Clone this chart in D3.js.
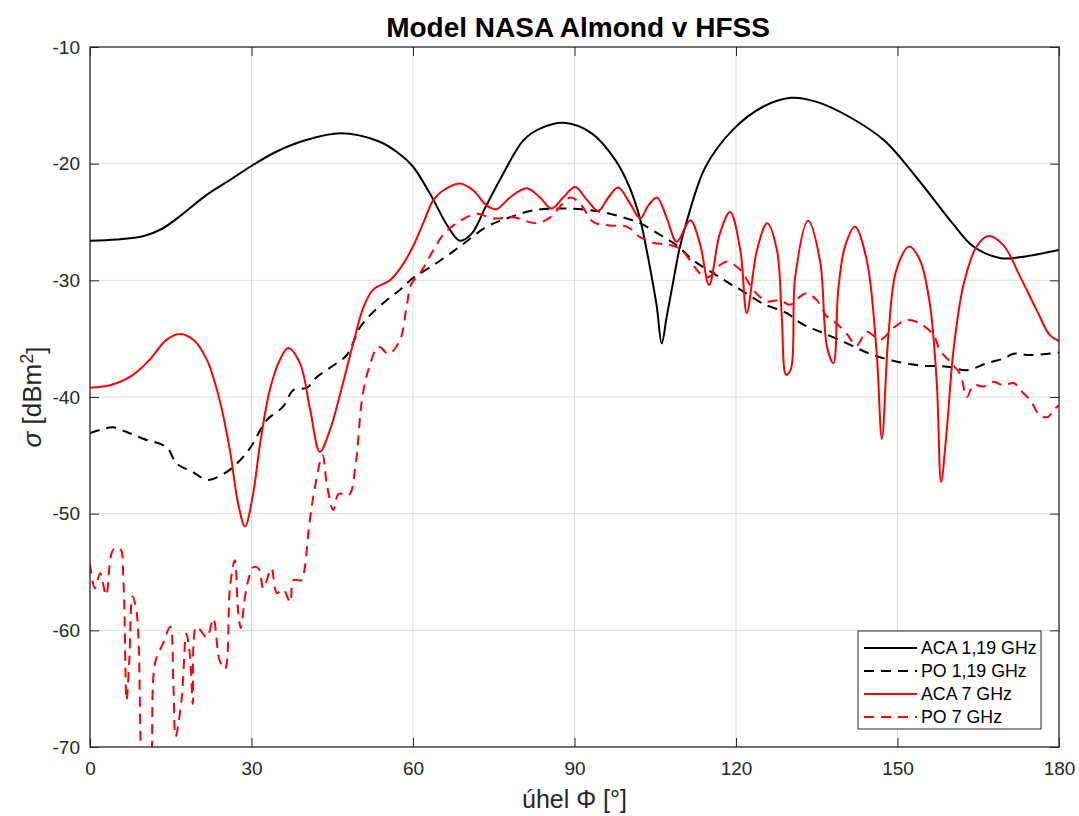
<!DOCTYPE html>
<html>
<head>
<meta charset="utf-8">
<script src="https://cdn.jsdelivr.net/npm/d3@7"></script>
<style>
  body { margin: 0; background: #fff; }
  text { font-family: "Liberation Sans", Arial, sans-serif; }
</style>
</head>
<body>
<div id="chart"></div>
<script>
// hodnoty (úhel ve stupních, sigma v dBm^2)
const acaLowAngle = [0, 5, 10, 13.3, 17, 21.6, 26, 30, 34.5, 40, 46.6, 53.7, 57, 59.9, 63.2, 66.5, 68.7, 70.9, 73.5, 76.7, 80.5, 83.6, 88, 93.2, 97.6, 100.2, 102.1, 103.4, 104.3, 105.3, 106.2, 107.1, 108.3, 109.5, 111, 114.3, 119.4, 125.1, 130.2, 135, 141.1, 147.5, 153.9, 160.2, 164.1, 169.2, 173, 180];
const acaLowVal = [-26.6, -26.5, -26.2, -25.6, -24.4, -22.7, -21.4, -20.2, -19.0, -18.0, -17.4, -18.1, -19.0, -20.2, -22.6, -25.4, -26.6, -26.0, -23.7, -20.9, -18.0, -17.0, -16.5, -17.4, -19.7, -22.0, -24.6, -27.4, -29.6, -32.3, -35.4, -33.2, -30.2, -27.3, -24.7, -20.3, -17.1, -15.1, -14.35, -14.7, -16.0, -18.0, -21.4, -25.1, -27.1, -28.1, -28.0, -27.4];

const poLowAngle = [0, 2, 4.3, 6.8, 10, 14.2, 16.1, 19, 21.7, 24, 26.6, 29.7, 32.8, 35.9, 37.8, 40.3, 42.1, 45.2, 47.7, 50.2, 52, 55.1, 57.6, 60, 63.8, 68.7, 73.7, 77.4, 82.4, 88.6, 94.7, 99.7, 102.2, 105.9, 109, 112.1, 115.8, 118.9, 120.8, 125, 129.4, 132.5, 135.6, 140.6, 144.9, 149.2, 154.2, 159.2, 162.9, 166.6, 169.7, 171.6, 174.7, 180];
const poLowVal = [-43.1, -42.8, -42.6, -43.0, -43.6, -44.3, -45.7, -46.4, -47.1, -46.8, -46.0, -44.4, -42.0, -40.8, -39.4, -39.2, -38.3, -37.3, -36.4, -34.0, -33.0, -31.7, -30.8, -29.8, -28.7, -27.1, -25.4, -24.7, -24.0, -23.85, -24.1, -24.7, -25.1, -26.1, -27.0, -28.3, -29.4, -30.3, -30.8, -32.0, -32.8, -33.8, -34.4, -35.4, -36.3, -36.9, -37.3, -37.4, -37.7, -37.1, -36.7, -36.3, -36.4, -36.2];

const acaHighAngle = [0, 3.7, 8, 11.1, 14.2, 16.7, 19.2, 21.7, 24.1, 26, 27.5, 28.8, 30.3, 31.6, 33.4, 35.3, 36.8, 39, 40.9, 42.7, 44.6, 47, 48.9, 50.8, 52.6, 55.7, 57.6, 60, 61.9, 63.8, 65.6, 68.7, 71.2, 73.7, 75.5, 78, 81.1, 83.6, 85.7, 87.9, 90.1, 92.3, 94.4, 96.3, 98.1, 100.3, 102.2, 103.7, 105.3, 107.1, 109, 111.5, 113.3, 115, 117, 118.9, 120.8, 122, 123.9, 125.8, 127.6, 128.5, 129.3, 130.2, 131, 133.4, 135.6, 136.9, 138.1, 139, 140.3, 142.1, 144.3, 146.1, 147.1, 148.3, 149.8, 152.2, 154.2, 156, 157.3, 158.1, 159.1, 160.4, 162.3, 164.7, 166.9, 169.7, 172.8, 175.9, 178.3, 180];
const acaHighVal = [-39.2, -39.0, -38.1, -36.8, -35.1, -34.6, -35.1, -36.8, -40.3, -44.6, -49.1, -51.1, -48.3, -44.0, -39.4, -36.8, -35.8, -37.1, -41.1, -44.7, -42.8, -38.8, -35.4, -32.3, -30.8, -30.0, -29.0, -27.1, -25.1, -23.1, -22.3, -21.7, -22.3, -23.6, -23.9, -22.9, -22.1, -22.9, -23.85, -22.9, -22.0, -23.1, -24.05, -22.9, -22.05, -23.4, -24.7, -23.6, -22.9, -24.6, -26.7, -24.85, -26.85, -30.4, -26.0, -24.15, -27.4, -32.8, -27.4, -25.1, -27.4, -33.1, -38.1, -37.6, -29.7, -24.9, -28.3, -35.7, -37.1, -30.8, -27.0, -25.4, -28.3, -36.0, -43.6, -34.8, -29.1, -27.1, -28.3, -32.0, -38.8, -47.3, -43.1, -36.0, -30.3, -27.1, -26.2, -27.0, -29.7, -32.6, -34.7, -35.2];

const poHighAngle = [0, 0.9, 1.9, 3, 4.3, 5.6, 6.2, 6.8, 7.3, 7.9, 8.7, 9.6, 10.5, 11.4, 12.1, 13.6, 14.9, 15.5, 15.9, 17, 17.9, 18.6, 19.1, 19.8, 21.7, 22.9, 24.1, 25.1, 26, 26.9, 27.5, 28, 28.8, 29.4, 30.3, 31.3, 32.2, 33.7, 34.7, 35.9, 37.2, 37.8, 39.3, 39.9, 40.6, 41.5, 43.2, 44, 45.2, 46.2, 48.1, 49.3, 50.5, 51.7, 53.6, 55.5, 57.6, 58.8, 59.7, 61.3, 63.8, 65.6, 68.1, 71.8, 74.9, 78.6, 83, 85.5, 89.2, 91, 93.5, 96.6, 99.7, 102.2, 104.7, 107.1, 109.6, 111.5, 113.3, 115, 117, 118.3, 120.8, 123.2, 125.7, 128.2, 130, 131.9, 133.1, 135, 136.9, 138.7, 140.6, 142.4, 144.3, 146.8, 149.2, 151.7, 154.2, 156.7, 157.9, 159.8, 161.6, 162.9, 164.1, 166, 167.8, 169.7, 171.6, 172.8, 174.7, 176.5, 178, 179, 180];
const poHighVal = [-54.3, -56.4, -55.1, -57.0, -53.1, -53.0, -55.7, -66.0, -62.6, -57.1, -58.6, -72.0, -76.0, -71.5, -62.8, -61.1, -59.7, -64.8, -69.1, -66.0, -60.3, -62.3, -66.3, -59.7, -60.6, -59.0, -62.6, -63.3, -56.3, -54.0, -58.3, -59.8, -57.1, -55.7, -54.6, -54.7, -56.4, -54.7, -56.8, -56.5, -57.6, -55.7, -55.7, -54.6, -51.5, -48.5, -45.0, -47.5, -49.7, -48.3, -48.4, -46.0, -40.3, -37.7, -35.7, -36.3, -35.1, -32.3, -30.3, -29.4, -27.4, -26.1, -25.1, -24.3, -24.7, -24.6, -25.1, -24.6, -22.9, -23.4, -25.0, -25.3, -25.4, -26.3, -26.8, -26.9, -27.3, -28.3, -29.4, -29.7, -28.7, -28.4, -29.1, -30.8, -31.8, -31.7, -32.1, -31.4, -31.1, -31.7, -33.1, -33.7, -34.6, -35.6, -34.4, -35.1, -34.1, -33.4, -33.7, -34.7, -36.0, -37.0, -38.0, -40.0, -39.0, -39.1, -38.7, -39.0, -38.8, -39.4, -40.3, -41.6, -41.7, -41.1, -40.7];

const seriesNames = ["ACA 1,19 GHz", "PO 1,19 GHz", "ACA 7 GHz", "PO 7 GHz"];
const xTicks = [0, 30, 60, 90, 120, 150, 180];
const yTicks = [-70, -60, -50, -40, -30, -20, -10];

const width = 1079;
const height = 816;
const mLeft = 90, mRight = 1059, mTop = 47, mBottom = 747;
const axisColor = "#262626";

const series = [
    { name: seriesNames[0], angle: acaLowAngle, val: acaLowVal, color: "#000000", dash: null },
    { name: seriesNames[1], angle: poLowAngle, val: poLowVal, color: "#000000", dash: "10,7" },
    { name: seriesNames[2], angle: acaHighAngle, val: acaHighVal, color: "#ff0000", dash: null },
    { name: seriesNames[3], angle: poHighAngle, val: poHighVal, color: "#ff0000", dash: "10,7" }
];

const svg = d3.select("#chart")
    .append("svg")
    .attr("width", width)
    .attr("height", height)
    .style("display", "block");

svg.append("rect").attr("width", width).attr("height", height).attr("fill", "#fff");

const x = d3.scaleLinear().domain([0, 180]).range([mLeft, mRight]);
const y = d3.scaleLinear().domain([-70, -10]).range([mBottom, mTop]);

// mřížka
svg.append("g")
    .selectAll("line")
    .data(xTicks.slice(1, -1))
    .join("line")
    .attr("x1", d => x(d)).attr("x2", d => x(d))
    .attr("y1", mTop).attr("y2", mBottom)
    .attr("stroke", "#dcdcdc").attr("stroke-width", 1);

svg.append("g")
    .selectAll("line")
    .data(yTicks.slice(1, -1))
    .join("line")
    .attr("x1", mLeft).attr("x2", mRight)
    .attr("y1", d => y(d)).attr("y2", d => y(d))
    .attr("stroke", "#dcdcdc").attr("stroke-width", 1);

// křivky
svg.append("clipPath").attr("id", "clip")
    .append("rect")
    .attr("x", mLeft).attr("y", mTop)
    .attr("width", mRight - mLeft).attr("height", mBottom - mTop);

const line = d3.line()
    .x(d => x(d[0]))
    .y(d => y(d[1]))
    .curve(d3.curveCatmullRom.alpha(0.5));

const plot = svg.append("g").attr("clip-path", "url(#clip)");
series.forEach(s => {
    plot.append("path")
        .datum(s.angle.map((a, i) => [a, s.val[i]]))
        .attr("fill", "none")
        .attr("stroke", s.color)
        .attr("stroke-width", 2)
        .attr("stroke-dasharray", s.dash)
        .attr("stroke-linejoin", "round")
        .attr("d", line);
});

// osy (ticky dovnitř, jako v MATLABu)
const tickLen = 9;
const styleAxis = g => {
    g.select(".domain").remove();
    g.selectAll(".tick line").attr("stroke", axisColor);
    g.selectAll(".tick text")
        .attr("fill", axisColor)
        .style("font-size", "19px")
        .style("font-family", "'Liberation Sans', Arial, sans-serif");
};

svg.append("g")
    .attr("transform", `translate(0,${mBottom})`)
    .call(d3.axisBottom(x).tickValues(xTicks).tickSizeInner(-tickLen).tickSizeOuter(0).tickPadding(15).tickFormat(d => String(d)))
    .call(styleAxis);

svg.append("g")
    .attr("transform", `translate(0,${mTop})`)
    .call(d3.axisTop(x).tickValues(xTicks).tickSizeInner(-tickLen).tickSizeOuter(0).tickFormat(""))
    .call(styleAxis);

svg.append("g")
    .attr("transform", `translate(${mLeft},0)`)
    .call(d3.axisLeft(y).tickValues(yTicks).tickSizeInner(-tickLen).tickSizeOuter(0).tickPadding(10).tickFormat(d => String(d)))
    .call(styleAxis);

svg.append("g")
    .attr("transform", `translate(${mRight},0)`)
    .call(d3.axisRight(y).tickValues(yTicks).tickSizeInner(-tickLen).tickSizeOuter(0).tickFormat(""))
    .call(styleAxis);

svg.append("rect")
    .attr("x", mLeft).attr("y", mTop)
    .attr("width", mRight - mLeft).attr("height", mBottom - mTop)
    .attr("fill", "none")
    .attr("stroke", axisColor)
    .attr("stroke-width", 1.3);

// titulek a popisky
svg.append("text")
    .attr("x", 578)
    .attr("y", 37)
    .attr("text-anchor", "middle")
    .attr("font-weight", "bold")
    .attr("font-size", 28)
    .attr("fill", "#000")
    .text("Model NASA Almond v HFSS");

svg.append("text")
    .attr("x", (mLeft + mRight) / 2)
    .attr("y", 808)
    .attr("text-anchor", "middle")
    .attr("font-size", 25)
    .attr("fill", axisColor)
    .text("úhel Φ [°]");

const yl = svg.append("text")
    .attr("transform", `translate(41,${(mTop + mBottom) / 2}) rotate(-90)`)
    .attr("text-anchor", "middle")
    .attr("font-size", 26)
    .attr("fill", axisColor);
yl.append("tspan").attr("font-style", "italic").text("σ");
yl.append("tspan").text(" [dBm");
yl.append("tspan").attr("dy", "-0.45em").attr("font-size", 18).text("2");
yl.append("tspan").attr("dy", "0.45em").text("]");

// legenda
const lg = svg.append("g");
lg.append("rect")
    .attr("x", 858).attr("y", 631)
    .attr("width", 183).attr("height", 98)
    .attr("fill", "#fff")
    .attr("stroke", axisColor)
    .attr("stroke-width", 1);

const ly = d3.scalePoint().domain(seriesNames).range([648, 717]);
series.forEach(s => {
    lg.append("line")
        .attr("x1", 864).attr("x2", 917)
        .attr("y1", ly(s.name)).attr("y2", ly(s.name))
        .attr("stroke", s.color)
        .attr("stroke-width", 2)
        .attr("stroke-dasharray", s.dash);
    lg.append("text")
        .attr("x", 921)
        .attr("y", ly(s.name))
        .attr("dy", "0.36em")
        .attr("font-size", 17.8)
        .attr("fill", "#000")
        .text(s.name);
});
</script>
</body>
</html>
